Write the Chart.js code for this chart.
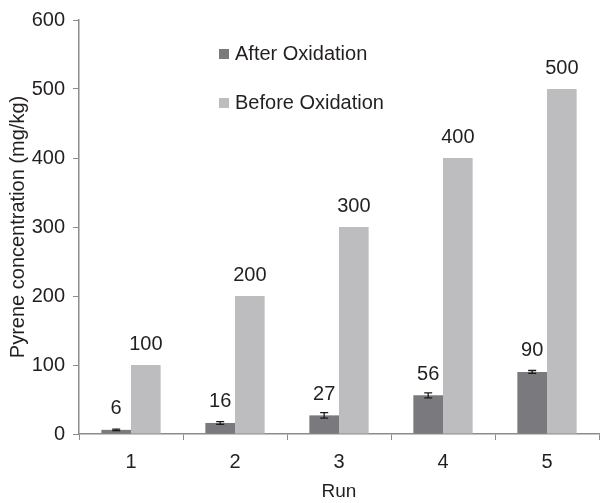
<!DOCTYPE html>
<html>
<head>
<meta charset="utf-8">
<script src="https://cdn.jsdelivr.net/npm/chart.js@4"></script>
<style>
  html, body { margin: 0; padding: 0; background: #fff; }
  #wrap { width: 600px; height: 503px; }
</style>
</head>
<body>
<div id="wrap"><canvas id="myChart" width="600" height="503"></canvas></div>
<script>
let runs = ['1', '2', '3', '4', '5'];
let afterOx = [6, 16, 27, 56, 90];
let afterErr = [1, 2, 4, 3.5, 2];
let beforeOx = [100, 200, 300, 400, 500];
let ColorHex = ['#7a7a7e', '#bdbdbf'];
let txt = '#231f20';
let axisCol = '#8c8c8c';
let fam = '"Liberation Sans", Arial, Helvetica, sans-serif';

// error bars on the first series
let errorBars = {
    id: 'errorBars',
    afterDatasetsDraw(chart) {
        let c = chart.ctx, y = chart.scales.y;
        let meta = chart.getDatasetMeta(0);
        c.save();
        c.strokeStyle = '#1a1a1a';
        c.lineWidth = 1.3;
        meta.data.forEach((bar, i) => {
            let v = afterOx[i], e = afterErr[i];
            let top = y.getPixelForValue(v + e), bot = y.getPixelForValue(v - e);
            c.beginPath();
            c.moveTo(bar.x, top); c.lineTo(bar.x, bot);
            c.moveTo(bar.x - 4, top); c.lineTo(bar.x + 4, top);
            c.moveTo(bar.x - 4, bot); c.lineTo(bar.x + 4, bot);
            c.stroke();
        });
        c.restore();
    }
};

// numbers above the bars
let barLabels = {
    id: 'barLabels',
    afterDatasetsDraw(chart) {
        let c = chart.ctx;
        c.save();
        c.font = '20px ' + fam;
        c.fillStyle = txt;
        c.textAlign = 'center';
        c.textBaseline = 'middle';
        chart.data.datasets.forEach((ds, d) => {
            chart.getDatasetMeta(d).data.forEach((bar, i) => {
                c.fillText(String(ds.data[i]), bar.x, bar.y - 21);
            });
        });
        c.restore();
    }
};

// legend inside the plot, stacked
let innerLegend = {
    id: 'innerLegend',
    afterDraw(chart) {
        let c = chart.ctx;
        c.save();
        c.font = '20px ' + fam;
        c.textBaseline = 'middle';
        chart.data.datasets.forEach((ds, d) => {
            let yy = 54 + d * 49;
            c.fillStyle = ds.backgroundColor;
            c.fillRect(219, yy - 5, 10, 10);
            c.fillStyle = txt;
            c.fillText(ds.label, 235, yy);
        });
        c.restore();
    }
};

let ctx = document.getElementById('myChart').getContext('2d');
var myChart = new Chart(ctx, {
    type: 'bar',
    data: {
        labels: runs,
        datasets: [{
            label: 'After Oxidation',
            data: afterOx,
            backgroundColor: ColorHex[0]
        }, {
            label: 'Before Oxidation',
            data: beforeOx,
            backgroundColor: ColorHex[1]
        }]
    },
    options: {
        responsive: false,
        animation: false,
        categoryPercentage: 0.57,
        barPercentage: 1.0,
        layout: { padding: { top: 12, right: 1, left: 0, bottom: 0 } },
        plugins: {
            legend: { display: false },
            tooltip: { enabled: false }
        },
        scales: {
            x: {
                afterFit: s => { s.height = 69; },
                grid: { drawOnChartArea: false, offset: true, tickLength: 6, color: axisCol },
                border: { color: axisCol, width: 1.5 },
                ticks: { color: txt, font: { family: fam, size: 20 }, padding: 10 },
                title: { display: true, text: 'Run', color: txt, font: { family: fam, size: 19 }, padding: { top: 2, bottom: 0 } }
            },
            y: {
                min: 0, max: 600,
                afterFit: s => { s.width = 79; },
                grid: { drawOnChartArea: false, tickLength: 6, color: axisCol },
                border: { color: axisCol, width: 1.5 },
                ticks: { stepSize: 100, color: txt, font: { family: fam, size: 20 }, padding: 8 },
                title: { display: true, text: 'Pyrene concentration (mg/kg)', color: txt, font: { family: fam, size: 20 }, padding: { top: 6, bottom: 0 } }
            }
        }
    },
    plugins: [errorBars, barLabels, innerLegend]
});
</script>
</body>
</html>
